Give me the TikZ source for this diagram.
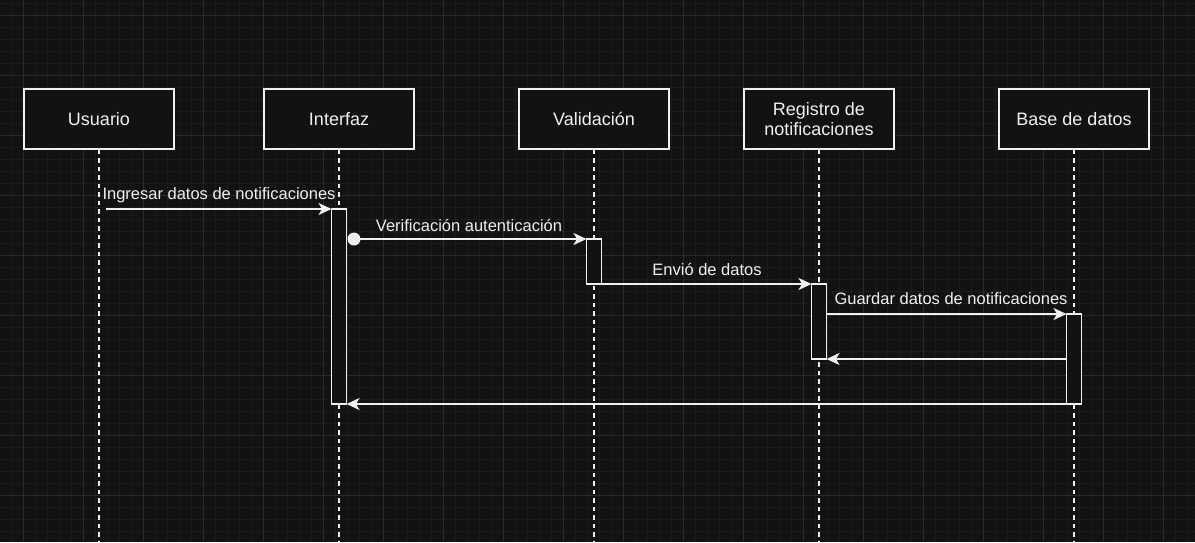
\documentclass[tikz,border=0pt]{standalone}
\usepackage{fontspec}
\setmainfont{Liberation Sans}
\usetikzlibrary{arrows.meta}
\definecolor{bg}{HTML}{121212}
\definecolor{gminor}{HTML}{1C1C1C}
\definecolor{gmajor}{HTML}{2A2A2A}
\definecolor{fg}{HTML}{F0F0F0}
\begin{document}
\begin{tikzpicture}[x=1pt,y=-1pt,
  actor/.style={draw=fg, fill=bg, line width=1.8pt, minimum width=150pt, minimum height=60pt,
    inner sep=0pt, text=fg, font=\fontsize{18}{20}\selectfont, align=center},
  actbar/.style={draw=fg, fill=bg, line width=1.8pt, minimum width=15pt, inner sep=0pt, outer sep=0pt, anchor=north},
  life/.style={draw=fg, line width=2pt, dash pattern=on 4.5pt off 4pt},
  msg/.style={draw=fg, line width=1.8pt, -{Stealth[length=13pt,width=12pt,inset=3.5pt]}},
  lbl/.style={text=fg, font=\fontsize{16.5}{18}\selectfont, inner sep=1pt},
  dot/.style={circle, fill=fg, minimum size=13pt, inner sep=0pt}]
% background and grid
\fill[bg] (0,0) rectangle (1195,542);
\useasboundingbox (0,0) rectangle (1195,542);
\foreach \x in {11,23,...,1195} \draw[gminor, line width=1pt] (\x,0) -- (\x,542);
\foreach \y in {3,15,...,542} \draw[gminor, line width=1pt] (0,\y) -- (1195,\y);
\foreach \x in {23,83,...,1195} \draw[gmajor, line width=1pt] (\x,0) -- (\x,542);
\foreach \y in {15,75,...,542} \draw[gmajor, line width=1pt] (0,\y) -- (1195,\y);
% actors
\node[actor] (u) at (99,119) {Usuario};
\node[actor] (i) at (339,119) {Interfaz};
\node[actor] (v) at (594,119) {Validación};
\node[actor] (r) at (819,119) {Registro de\\notificaciones};
\node[actor] (d) at (1074,119) {Base de datos};
% lifeline ends
\coordinate (ue) at (99,542);
\coordinate (ie) at (339,542);
\coordinate (ve) at (594,542);
\coordinate (re) at (819,542);
\coordinate (de) at (1074,542);
\draw[life] (u.south) -- (ue);
\draw[life] (i.south) -- (ie);
\draw[life] (v.south) -- (ve);
\draw[life] (r.south) -- (re);
\draw[life] (d.south) -- (de);
% activation bars
\node[actbar, minimum height=195pt] (ib) at (339,209) {};
\node[actbar, minimum height=45pt] (vb) at (594,239) {};
\node[actbar, minimum height=75pt] (rb) at (819,284) {};
\node[actbar, minimum height=90pt] (db) at (1074,314) {};
% messages
\coordinate (m1s) at (106,209);
\draw[msg] (m1s) -- (ib.north west);
\node[lbl] (l1) at (219,195) {Ingresar datos de notificaciones};
\node[dot] (c2) at (354,239) {};
\draw[msg] (c2.center) -- (vb.north west);
\node[lbl] (l2) at (469,225) {Verificación autenticación};
\draw[msg] (vb.south east) -- (rb.north west);
\node[lbl] (l3) at (707,269) {Envió de datos};
\draw[msg] (rb.east |- db.north) -- (db.north west);
\node[lbl] (l4) at (951,299) {Guardar datos de notificaciones};
\draw[msg] (db.west |- rb.south) -- (rb.south east);
\draw[msg] (db.south west) -- (ib.south east);
\end{tikzpicture}
\end{document}
